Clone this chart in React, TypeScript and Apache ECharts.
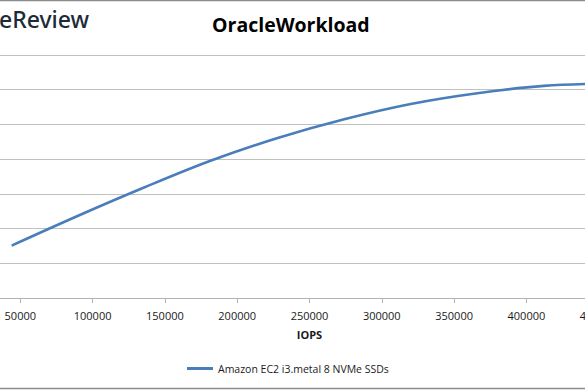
import React, { useEffect, useRef } from "react";
import * as echarts from "echarts";

const seriesName = "Amazon EC2 i3.metal 8 NVMe SSDs";
const iops = [44000, 90000, 136000, 182000, 228000, 274000, 320000, 366000, 412000, 458000];
const latency = [1.51, 2.37, 3.19, 3.96, 4.61, 5.15, 5.59, 5.9, 6.11, 6.18];
const xTicks = [0, 50000, 100000, 150000, 200000, 250000, 300000, 350000, 400000, 450000, 500000];

const OFFSET = 52;
const INNER_W = 723;

export default function App() {
  const ref = useRef<HTMLDivElement>(null);
  useEffect(() => {
    if (!ref.current) return;
    const chart = echarts.init(ref.current, null, { renderer: "svg" });
    const font = "'Open Sans', 'Noto Sans', sans-serif";
    chart.setOption({
      animation: false,
      backgroundColor: "#ffffff",
      title: {
        text: "OracleWorkload",
        left: OFFSET + 207,
        top: 9,
        textStyle: { fontFamily: font, fontSize: 19.5, fontWeight: "bold", color: "#000000" },
      },
      legend: {
        bottom: 11,
        left: OFFSET + 182,
        icon: "rect",
        itemWidth: 26,
        itemHeight: 3,
        itemGap: 4,
        textStyle: { fontFamily: font, fontSize: 10.5, color: "#1a1a1a" },
        data: [seriesName],
      },
      grid: {
        left: 0,
        right: 0,
        top: 55,
        bottom: 92,
        containLabel: false,
        outerBoundsMode: "none",
      },
      xAxis: {
        type: "value",
        min: xTicks[0],
        max: xTicks[xTicks.length - 1],
        interval: xTicks[1] - xTicks[0],
        name: "IOPS",
        nameLocation: "middle",
        nameGap: 31,
        nameTextStyle: { fontFamily: font, fontSize: 11, fontWeight: "bold", color: "#1a1a1a" },
        axisLine: { show: true, lineStyle: { color: "#b3b3b3", width: 1 } },
        axisTick: { show: true, length: 5, lineStyle: { color: "#b3b3b3" } },
        axisLabel: {
          fontFamily: font,
          fontSize: 11,
          color: "#1a1a1a",
          margin: 12,
          showMinLabel: false,
          showMaxLabel: false,
          formatter: (v: number) => String(v),
        },
        splitLine: { show: false },
      },
      yAxis: {
        type: "value",
        min: 0,
        max: 7,
        interval: 1,
        axisLabel: { show: false },
        axisLine: { show: false },
        axisTick: { show: false },
        splitLine: { show: true, lineStyle: { color: "#c0c0c0", width: 1.2 } },
      },
      graphic: [
        {
          type: "text",
          x: OFFSET - 1,
          y: 19,
          style: {
            text: "eReview",
            font: "500 23px 'Noto Sans', Lato, sans-serif",
            fill: "#1d2b38",
            verticalAlign: "middle",
          },
        },
        {
          type: "line",
          shape: { x1: OFFSET, y1: 0.5, x2: OFFSET + 585, y2: 0.5 },
          style: { stroke: "#8c8c8c", lineWidth: 1.5 },
        },
        {
          type: "line",
          shape: { x1: OFFSET, y1: 388.5, x2: OFFSET + 585, y2: 388.5 },
          style: { stroke: "#8c8c8c", lineWidth: 1.5 },
        },
      ],
      series: [
        {
          name: seriesName,
          type: "line",
          smooth: 0.35,
          showSymbol: false,
          data: iops.map((x, i) => [x, latency[i]]),
          lineStyle: { color: "#4a7ebb", width: 2.6 },
          itemStyle: { color: "#4a7ebb" },
        },
      ],
    });
    return () => chart.dispose();
  }, []);
  return (
    <div style={{ position: "absolute", left: 0, top: 0, width: 585, height: 390, overflow: "hidden" }}>
      <div
        ref={ref}
        style={{ position: "absolute", left: -OFFSET, top: 0, width: INNER_W, height: 390 }}
      />
    </div>
  );
}
